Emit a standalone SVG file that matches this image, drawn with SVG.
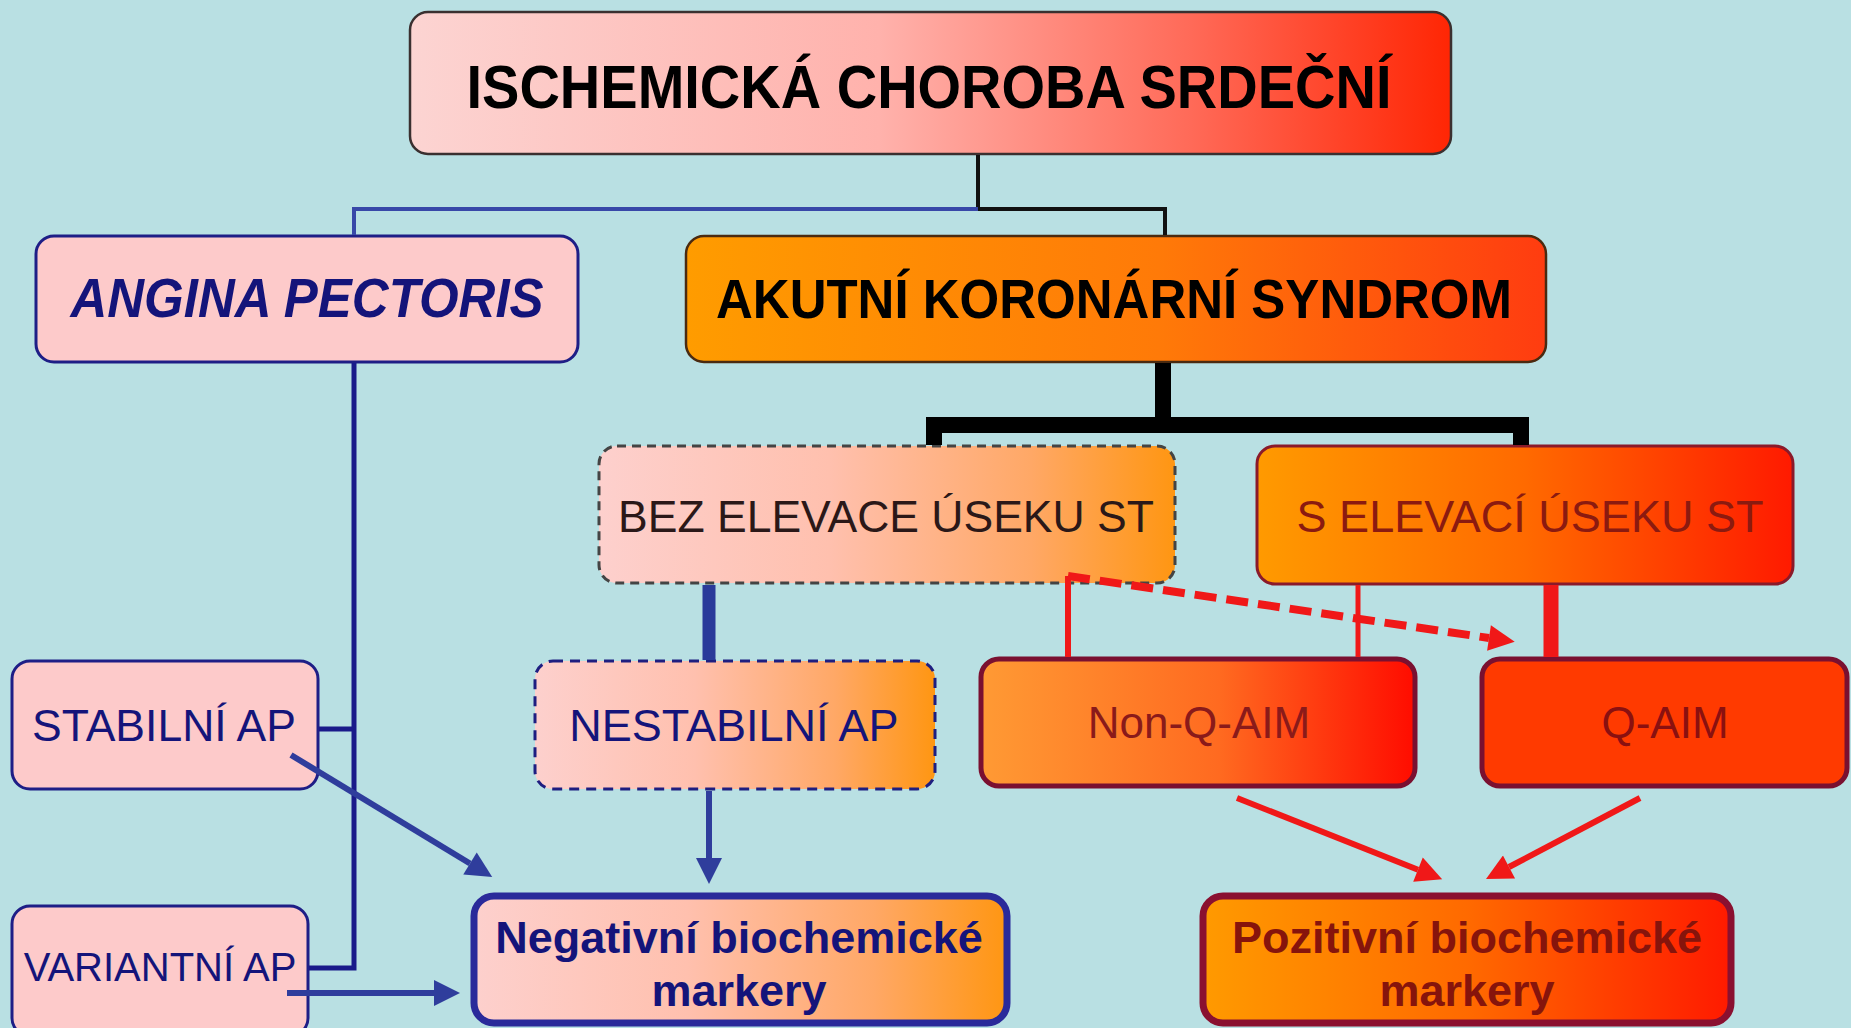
<svg xmlns="http://www.w3.org/2000/svg" width="1851" height="1028" viewBox="0 0 1851 1028">
<defs>
<linearGradient id="gTop" x1="0" y1="0" x2="1" y2="0"><stop offset="0" stop-color="#fcd4d2"/><stop offset="0.45" stop-color="#ffb2ac"/><stop offset="0.75" stop-color="#ff6a58"/><stop offset="1" stop-color="#ff2604"/></linearGradient>
<linearGradient id="gOrange" x1="0" y1="0" x2="1" y2="0"><stop offset="0" stop-color="#ff9c00"/><stop offset="0.55" stop-color="#ff7a08"/><stop offset="1" stop-color="#ff3c10"/></linearGradient>
<linearGradient id="gOrRed" x1="0" y1="0" x2="1" y2="0"><stop offset="0" stop-color="#ff9a00"/><stop offset="0.5" stop-color="#ff6a00"/><stop offset="1" stop-color="#ff1a00"/></linearGradient>
<linearGradient id="gPinkOr" x1="0" y1="0" x2="1" y2="0"><stop offset="0" stop-color="#fdd0cd"/><stop offset="0.4" stop-color="#ffc0ae"/><stop offset="0.75" stop-color="#ffa866"/><stop offset="1" stop-color="#ff9612"/></linearGradient>
<linearGradient id="gNonQ" x1="0" y1="0" x2="1" y2="0"><stop offset="0" stop-color="#ff9a34"/><stop offset="0.55" stop-color="#ff6a20"/><stop offset="1" stop-color="#ff0c00"/></linearGradient>
<marker id="ab" viewBox="0 0 10 10" refX="0" refY="5" markerWidth="28" markerHeight="26" markerUnits="userSpaceOnUse" orient="auto"><path d="M0,0 L10,5 L0,10 z" fill="#2f3d9c"/></marker>
<marker id="ar" viewBox="0 0 10 10" refX="0" refY="5" markerWidth="28" markerHeight="26" markerUnits="userSpaceOnUse" orient="auto"><path d="M0,0 L10,5 L0,10 z" fill="#f01818"/></marker>
</defs>
<style>
text{font-family:"Liberation Sans",Arial,sans-serif;text-anchor:middle}
.b{font-weight:bold}
.navy{fill:#14147a}
.dred{fill:#86140c}
.blue{fill:none;stroke:#2f3d9c;stroke-width:6}
.red{fill:none;stroke:#f01818;stroke-width:6}
</style>
<rect width="1851" height="1028" fill="#b9e0e3"/>

<g id="ischemicka">
<rect x="410" y="12" width="1041" height="142" rx="18" fill="url(#gTop)" stroke="#3a3030" stroke-width="2.5"/>
<text class="b" x="929" y="108" font-size="56" fill="#000" transform="translate(0,-10.8) scale(1,1.1)">ISCHEMICKÁ CHOROBA SRDEČNÍ</text>
</g>
<g id="angina">
<rect x="36" y="236" width="542" height="126" rx="18" fill="#fdcaca" stroke="#1e1e86" stroke-width="3"/>
<text class="b navy" x="307" y="317" font-size="51" font-style="italic" transform="translate(0,-23.8) scale(1,1.075)">ANGINA PECTORIS</text>
</g>
<g id="aks">
<rect x="686" y="236" width="860" height="126" rx="18" fill="url(#gOrange)" stroke="#4a2a10" stroke-width="2.5"/>
<text class="b" x="1114" y="318" font-size="51" fill="#000" transform="translate(0,-23.85) scale(1,1.075)">AKUTNÍ KORONÁRNÍ SYNDROM</text>
</g>
<g id="bez">
<rect x="599" y="446" width="576" height="137" rx="18" fill="url(#gPinkOr)" stroke="#444" stroke-width="3" stroke-dasharray="9 6"/>
<text x="886" y="532" font-size="44.5" fill="#2b1818">BEZ ELEVACE ÚSEKU ST</text>
</g>
<g id="selevaci">
<rect x="1257" y="446" width="536" height="138" rx="18" fill="url(#gOrRed)" stroke="#8a1a2a" stroke-width="3"/>
<text x="1530" y="532" font-size="45" fill="#8b1a10">S ELEVACÍ ÚSEKU ST</text>
</g>
<g id="stabilni">
<rect x="12" y="661" width="306" height="128" rx="18" fill="#fdcaca" stroke="#1e1e86" stroke-width="3"/>
<text class="navy" x="164" y="741" font-size="44.5">STABILNÍ AP</text>
</g>
<g id="variantni">
<rect x="12" y="906" width="296" height="130" rx="18" fill="#fdcaca" stroke="#1e1e86" stroke-width="3"/>
<text class="navy" x="160" y="981" font-size="40">VARIANTNÍ AP</text>
</g>
<g id="nestabilni">
<rect x="535" y="661" width="400" height="128" rx="18" fill="url(#gPinkOr)" stroke="#1e1e80" stroke-width="3" stroke-dasharray="10 7"/>
<text class="navy" x="734" y="741" font-size="45">NESTABILNÍ AP</text>
</g>
<g id="nonq">
<rect x="981" y="659" width="434" height="127" rx="18" fill="url(#gNonQ)" stroke="#7a1030" stroke-width="5"/>
<text x="1199" y="738" font-size="44" fill="#8a1a1a">Non-Q-AIM</text>
</g>
<g id="qaim">
<rect x="1482" y="659" width="365" height="127" rx="18" fill="#ff3a00" stroke="#7a1030" stroke-width="5"/>
<text x="1665" y="738" font-size="44" fill="#8a1010">Q-AIM</text>
</g>
<g id="negativni">
<rect x="474" y="896" width="533" height="127" rx="20" fill="url(#gPinkOr)" stroke="#2a2a9a" stroke-width="7"/>
<text class="b navy" x="739" y="953" font-size="45">Negativní biochemické</text>
<text class="b navy" x="739" y="1006" font-size="45">markery</text>
</g>
<g id="pozitivni">
<rect x="1203" y="896" width="528" height="127" rx="20" fill="url(#gOrRed)" stroke="#8a1030" stroke-width="7"/>
<text class="b dred" x="1467" y="953" font-size="45">Pozitivní biochemické</text>
<text class="b dred" x="1467" y="1006" font-size="45">markery</text>
</g>

<g id="connectors">
<polyline points="978,155 978,209 1165,209 1165,235" fill="none" stroke="#111" stroke-width="4"/>
<polyline points="978,209 354,209 354,235" fill="none" stroke="#3848a8" stroke-width="4"/>
<polyline points="354,363 354,968 309,968" fill="none" stroke="#1a1a8a" stroke-width="5"/>
<line x1="319" y1="729" x2="354" y2="729" stroke="#1a1a8a" stroke-width="5"/>
<path d="M934,445 V425 H1521 V445 M1163,363 V425" fill="none" stroke="#000" stroke-width="16"/>
<line x1="709" y1="585" x2="709" y2="660" stroke="#2a3a9a" stroke-width="13"/>
<line class="blue" x1="291" y1="755" x2="470" y2="863.5" marker-end="url(#ab)"/>
<line class="blue" x1="287" y1="993" x2="434" y2="993" marker-end="url(#ab)"/>
<line class="blue" x1="709" y1="791" x2="709" y2="858" marker-end="url(#ab)"/>
<line x1="1068" y1="576" x2="1068" y2="657" stroke="#f01818" stroke-width="6"/>
<line x1="1358" y1="585" x2="1358" y2="657" stroke="#f01818" stroke-width="5"/>
<line x1="1551" y1="585" x2="1551" y2="657" stroke="#f01818" stroke-width="15"/>
<line x1="1068" y1="576" x2="1489" y2="638" stroke="#f01818" stroke-width="8" stroke-dasharray="22 10" marker-end="url(#ar)"/>
<line class="red" x1="1237" y1="798" x2="1418" y2="869.7" marker-end="url(#ar)"/>
<line class="red" x1="1640" y1="798" x2="1509" y2="867" marker-end="url(#ar)"/>
</g>
</svg>
